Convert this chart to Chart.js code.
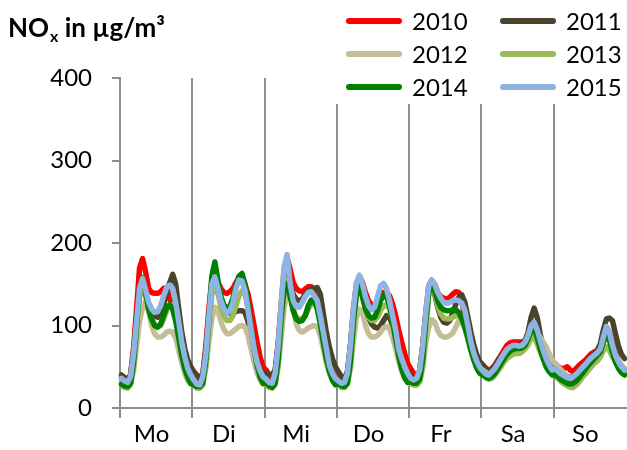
<!DOCTYPE html>
<html>
<head>
<meta charset="utf-8">
<script src="https://cdn.jsdelivr.net/npm/chart.js@4.4.1/dist/chart.umd.min.js"></script>
<style>
  html, body { margin: 0; padding: 0; background: #fff; }
</style>
</head>
<body>
<canvas id="noxChart" width="627" height="450"></canvas>
<script>
const days = ["Mo", "Di", "Mi", "Do", "Fr", "Sa", "So"];
const years = ["2010", "2011", "2012", "2013", "2014", "2015"];
const yTicks = [0, 100, 200, 300, 400];

// Stundenmittel NOx, Mo 0 Uhr bis So 23 Uhr (je Zeile ein Tag)
const nox2010 = [
  37,34,32,40,72,120,170,181,165,145,140,139,139,141,145,146,132,126,115,96,76,60,47,40,
  36,31,30,40,75,120,155,162,152,145,140,139,141,145,152,158,158,150,138,120,100,80,62,50,
  46,40,36,44,78,125,168,182,168,152,145,142,141,144,147,147,143,132,112,90,70,54,43,37,
  36,32,31,42,75,120,150,160,152,140,130,125,124,128,135,140,140,136,126,112,95,80,66,54,
  48,42,37,45,75,115,148,155,150,140,135,133,132,134,138,141,140,128,112,96,84,72,62,55,
  52,48,46,48,52,58,64,70,76,79,80,80,80,80,82,88,98,102,94,82,72,62,56,52,
  54,50,48,48,50,46,44,48,52,55,58,62,66,68,70,74,85,97,92,78,66,56,50,46
];
const nox2011 = [
  40,37,34,40,68,110,145,152,140,125,116,112,110,112,125,140,152,162,150,120,92,72,58,50,
  44,40,36,42,70,110,145,150,140,128,120,116,115,116,117,118,118,116,105,88,70,56,48,42,
  42,40,40,46,75,118,150,160,150,138,132,130,132,138,142,144,145,146,138,115,92,74,60,50,
  44,38,36,44,75,115,145,150,138,122,110,102,98,97,100,106,112,110,100,86,70,57,48,43,
  40,36,36,45,75,112,140,148,138,122,110,104,103,106,115,126,134,137,128,110,92,76,64,56,
  52,47,44,46,52,58,62,66,70,72,74,75,76,78,82,92,110,121,110,90,74,62,55,50,
  48,45,42,40,38,37,38,42,46,50,54,58,62,66,70,78,95,108,109,106,90,75,65,60
];
const nox2012 = [
  30,28,27,30,45,75,105,122,129,118,100,90,86,86,88,92,93,92,85,70,55,42,33,29,
  28,26,26,30,48,80,108,122,118,105,95,90,90,93,96,99,100,98,88,72,56,43,34,29,
  30,27,26,30,50,85,122,140,142,122,102,94,92,94,97,99,100,98,88,72,55,42,34,30,
  28,26,26,30,48,82,110,120,116,100,90,86,86,88,92,97,99,96,86,72,57,45,36,31,
  30,28,28,32,48,78,98,107,104,94,88,86,86,88,91,98,106,105,96,84,72,62,54,48,
  46,43,41,40,42,46,52,58,62,64,66,67,68,70,72,76,84,90,90,86,80,74,66,58,
  54,50,46,42,38,35,33,34,38,44,50,55,59,62,64,66,70,74,74,70,64,58,52,48
];
const nox2013 = [
  27,25,24,28,50,95,135,148,135,118,106,100,98,100,108,118,124,125,112,90,68,50,38,30,
  27,24,24,28,52,95,138,152,140,122,112,106,106,112,124,136,142,138,122,96,72,52,38,30,
  28,25,24,28,52,100,142,155,140,120,110,108,108,112,120,126,128,124,110,88,66,48,36,30,
  28,25,25,29,52,95,135,147,136,120,110,106,106,110,118,124,125,120,106,86,66,50,38,32,
  30,28,28,32,52,92,135,148,140,124,114,109,108,108,110,112,112,108,98,84,70,58,48,42,
  40,37,35,36,40,45,50,56,60,63,65,66,66,68,72,80,86,86,78,68,60,54,48,44,
  40,36,32,29,27,25,25,28,32,37,41,46,50,54,57,62,70,74,70,62,56,50,46,43
];
const nox2014 = [
  29,27,26,30,55,100,145,158,140,120,108,100,98,102,112,122,125,120,105,85,64,48,37,30,
  28,26,26,30,58,110,160,177,155,135,125,121,123,133,148,160,163,150,125,98,72,52,38,30,
  30,27,25,30,58,110,145,151,135,118,108,105,106,112,124,131,130,120,102,80,60,45,34,28,
  30,27,26,30,56,105,140,147,135,120,112,109,110,118,130,137,135,124,105,84,64,48,37,31,
  32,30,30,35,58,105,140,150,142,130,122,119,118,118,119,119,116,108,98,85,70,58,48,42,
  40,37,36,38,42,48,54,60,65,69,71,72,72,73,76,84,94,96,86,72,60,50,44,40,
  40,37,34,32,30,29,30,33,37,42,47,52,56,60,64,68,80,90,82,68,56,48,43,40
];
const nox2015 = [
  36,33,31,38,65,105,145,157,143,128,120,116,117,124,136,146,149,145,128,105,80,62,48,40,
  34,29,28,38,65,110,150,159,145,130,120,115,118,128,145,155,154,142,120,95,72,56,45,38,
  35,31,30,42,75,125,172,186,150,130,123,122,128,135,140,141,136,130,112,92,72,52,42,36,
  33,30,31,42,75,120,152,161,150,135,124,119,122,135,148,151,145,130,112,95,72,60,50,42,
  36,34,36,46,75,115,148,155,150,140,133,128,127,128,130,131,130,127,118,100,80,66,56,49,
  45,41,40,44,48,54,60,66,71,74,76,76,75,76,80,88,100,104,95,82,70,60,52,46,
  48,44,41,39,37,36,38,41,45,49,53,57,61,64,67,72,86,99,92,76,64,56,50,46
];

const colors = ["#ff0000", "#4a452a", "#c4bd97", "#9bbb59", "#008000", "#8db4e2"];
const series = [nox2010, nox2011, nox2012, nox2013, nox2014, nox2015];
const gridGray = "#8e8e8e";
const fontFamily = "Lato, 'Liberation Sans', sans-serif";

// 168 Stunden als Kategorien
const labels = [];
days.forEach((d) => {
  for (let h = 0; h < 24; h++) labels.push(d + " " + h);
});

// Titel mit tiefgestelltem x
const titlePlugin = {
  id: "titlePlugin",
  afterDraw(chart) {
    const ctx = chart.ctx;
    ctx.save();
    ctx.fillStyle = "#000";
    ctx.textBaseline = "alphabetic";
    let x = 8;
    const y = 37;
    ctx.font = "bold 26px " + fontFamily;
    ctx.fillText("NO", x, y);
    x += ctx.measureText("NO").width + 1;
    ctx.font = "bold 16px " + fontFamily;
    ctx.fillText("x", x, y + 5);
    x += ctx.measureText("x").width;
    ctx.font = "bold 26px " + fontFamily;
    ctx.fillText(" in µg/m³", x, y);
    ctx.restore();
  },
};

// Legende in zwei Spalten mit weissem Hintergrund
const legendPlugin = {
  id: "legendPlugin",
  afterDraw(chart) {
    const ctx = chart.ctx;
    ctx.save();
    ctx.fillStyle = "#fff";
    ctx.fillRect(326, 0, 301, 104);
    const colX = [346, 500];
    const rowY = [21, 54, 87];
    ctx.font = "24px " + fontFamily;
    ctx.textBaseline = "middle";
    ctx.lineCap = "round";
    ctx.lineWidth = 6;
    years.forEach((yr, i) => {
      const x = colX[i % 2];
      const y = rowY[Math.floor(i / 2)];
      ctx.strokeStyle = colors[i];
      ctx.beginPath();
      ctx.moveTo(x + 3, y);
      ctx.lineTo(x + 53, y);
      ctx.stroke();
      ctx.fillStyle = "#000";
      ctx.fillText(yr, x + 66, y + 1);
    });
    ctx.restore();
  },
};

const ctx = document.getElementById("noxChart").getContext("2d");
const myChart = new Chart(ctx, {
  type: "line",
  plugins: [titlePlugin, legendPlugin],
  data: {
    labels: labels,
    datasets: series.map((values, i) => ({
      label: years[i],
      data: values,
      borderColor: colors[i],
      backgroundColor: colors[i],
      borderWidth: 5.5,
      borderJoinStyle: "round",
      borderCapStyle: "round",
      pointRadius: 0,
      tension: 0,
      order: series.length - i, // 2015 oben
    })),
  },
  options: {
    responsive: false,
    animation: false,
    devicePixelRatio: 1,
    layout: { padding: { top: 78, right: 1, left: 0, bottom: 0 } },
    plugins: {
      legend: { display: false },
      tooltip: { enabled: false },
    },
    scales: {
      x: {
        type: "category",
        offset: true,
        afterFit: (scale) => {
          scale.height = 42;
        },
        grid: {
          offset: true,
          drawOnChartArea: true,
          drawTicks: true,
          tickLength: 10,
          lineWidth: 2,
          color: (c) => (c.index % 24 === 0 ? gridGray : "rgba(0,0,0,0)"),
        },
        border: { display: true, color: gridGray, width: 2 },
        ticks: {
          autoSkip: false,
          maxRotation: 0,
          minRotation: 0,
          padding: 2,
          color: "#000",
          font: { family: fontFamily, size: 24 },
          callback: (val, i) => (i % 24 === 10 ? days[Math.floor(i / 24)] : ""),
        },
      },
      y: {
        min: 0,
        max: 400,
        afterFit: (scale) => {
          scale.width = 120;
        },
        afterBuildTicks: (scale) => {
          scale.ticks = yTicks.map((v) => ({ value: v }));
        },
        grid: {
          drawOnChartArea: false,
          drawTicks: true,
          tickLength: 8,
          lineWidth: 2,
          color: gridGray,
        },
        border: { display: true, color: gridGray, width: 2 },
        ticks: {
          padding: 20,
          color: "#000",
          font: { family: fontFamily, size: 24 },
        },
      },
    },
  },
});
</script>
</body>
</html>
